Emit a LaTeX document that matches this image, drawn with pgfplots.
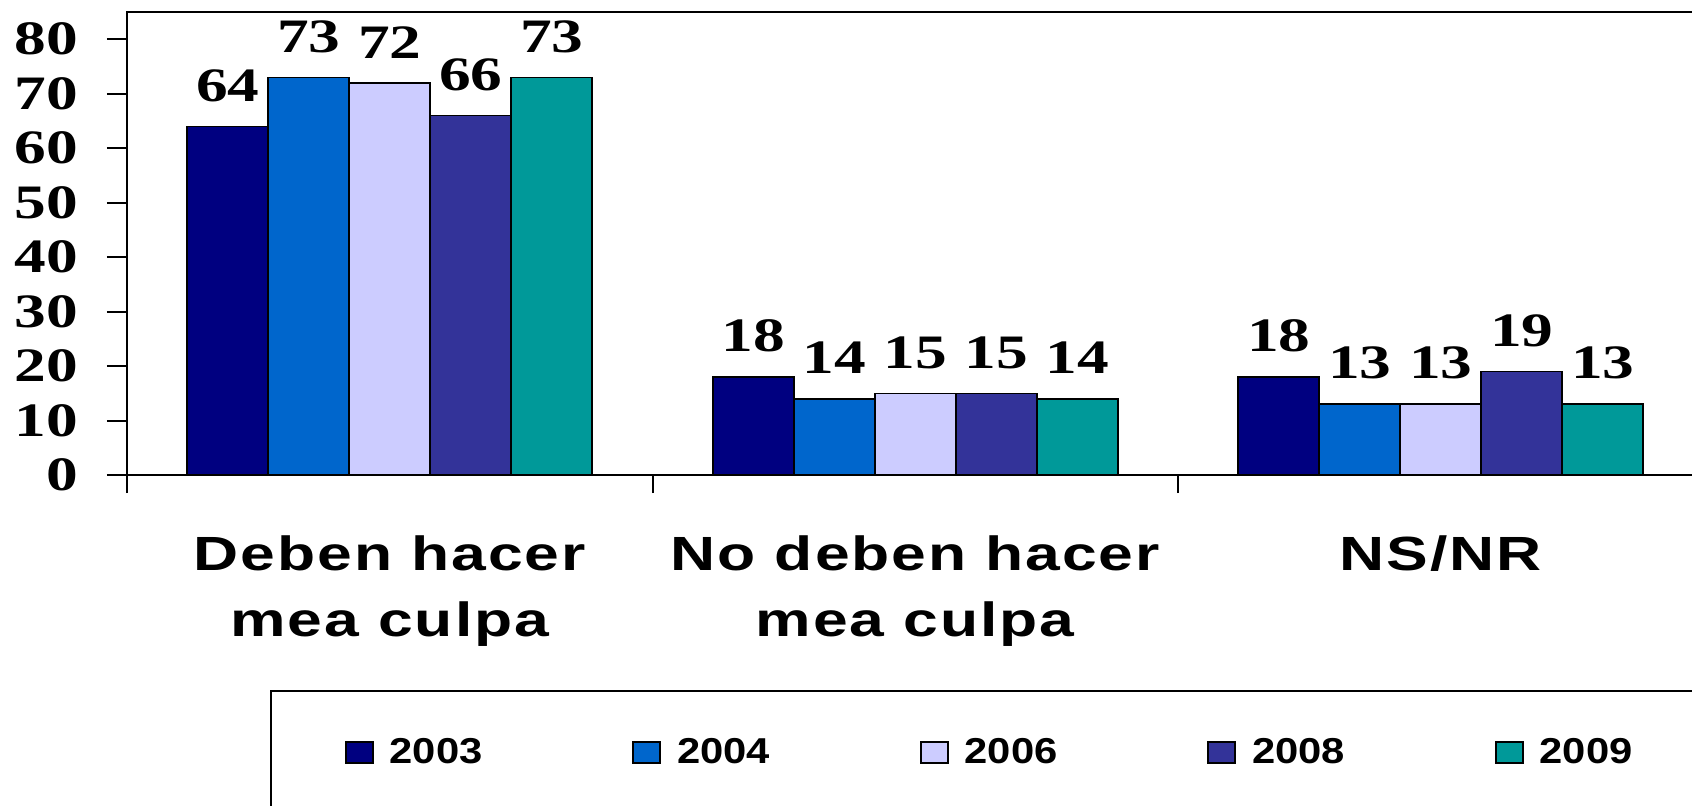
\documentclass[border=0pt]{standalone}
\usepackage{fontspec}
\usepackage{pgfplots}
\pgfplotsset{compat=1.18}
\newfontfamily\numfont{Liberation Serif}[FakeStretch=1.32]
\newfontfamily\catfont{Liberation Sans}[FakeStretch=1.3,LetterSpace=4]
\newfontfamily\legfont{Liberation Sans}[FakeStretch=1.16]
\definecolor{c03}{HTML}{000080}
\definecolor{c04}{HTML}{0066CC}
\definecolor{c06}{HTML}{CCCCFF}
\definecolor{c08}{HTML}{333399}
\definecolor{c09}{HTML}{009999}
\begin{document}
\begin{tikzpicture}
\begin{axis}[
  at={(0,0)}, anchor=south west,
  scale only axis, width=788.25pt, height=231.5pt,
  ybar=0pt, bar width=40.5pt,
  xmin=-0.5, xmax=2.5, ymin=0, ymax=85,
  xtick={0,1,2},
  xticklabels={{Deben hacer\\mea culpa},{No deben hacer\\mea culpa},{NS/NR}},
  minor xtick={-0.5,0.5,1.5,2.5},
  ytick={0,10,...,80},
  xtick pos=bottom, ytick pos=left,
  tick align=outside, major tick length=10pt, minor tick length=9pt,
  major x tick style={draw=none},
  tick style={black, line width=1pt},
  axis line style={line width=1pt},
  /pgf/number format/assume math mode=true,
  yticklabel style={font=\numfont\bfseries\fontsize{24}{24}\selectfont, xshift=-11pt},
  xticklabel style={font=\catfont\bfseries\fontsize{24}{33}\selectfont, align=center, anchor=north, inner sep=0pt, yshift=-20pt},
  nodes near coords,
  nodes near coords style={font=\numfont\bfseries\fontsize{24}{24}\selectfont, anchor=south, inner sep=0pt, yshift=12pt},
  legend columns=5,
  legend entries={2003,2004,2006,2008,2009},
  legend image code/.code={\draw[#1,draw=black,line width=0.8pt] (0pt,-1.5pt) rectangle (13.5pt,9pt);},
  legend style={at={(rel axis cs:0.0907,-0.4654)}, anchor=north west, draw=black, line width=1pt,
    font=\legfont\bfseries\fontsize{18}{18}\selectfont, inner xsep=37pt, inner ysep=23.5pt,
    nodes={inner sep=0pt, text depth=9pt},
    /tikz/every odd column/.append style={column sep=8pt},
    /tikz/every even column/.append style={column sep=75pt}},
]
\addplot[fill=c03, draw=black, line width=0.8pt] coordinates {(0,64) (1,18) (2,18)};
\addplot[fill=c04, draw=black, line width=0.8pt] coordinates {(0,73) (1,14) (2,13)};
\addplot[fill=c06, draw=black, line width=0.8pt] coordinates {(0,72) (1,15) (2,13)};
\addplot[fill=c08, draw=black, line width=0.8pt] coordinates {(0,66) (1,15) (2,19)};
\addplot[fill=c09, draw=black, line width=0.8pt] coordinates {(0,73) (1,14) (2,13)};
\end{axis}
\pgfresetboundingbox
\path[use as bounding box] (-63.5pt,-165pt) rectangle (782.5pt,237.5pt);
\end{tikzpicture}
\end{document}
